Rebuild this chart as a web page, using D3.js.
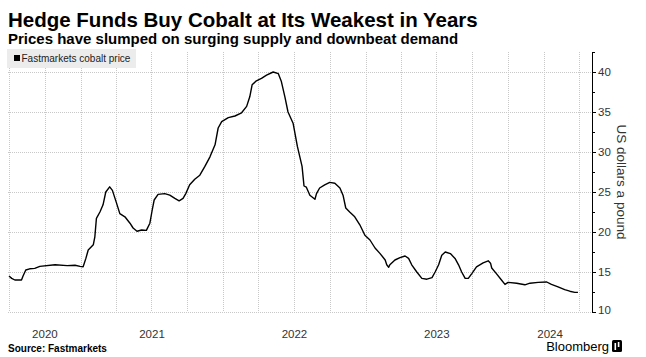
<!DOCTYPE html>
<html><head><meta charset="utf-8">
<script src="https://cdn.jsdelivr.net/npm/d3@7"></script>
<style>
html,body{margin:0;padding:0;background:#fff;}
svg{display:block;font-family:"Liberation Sans",Arial,sans-serif;}
</style></head>
<body><svg id="c" width="646" height="357"></svg>
<script>
// ---- data ----
const dates = ["2020-07-01","2020-07-08","2020-07-16","2020-08-02","2020-08-06","2020-08-13","2020-08-23","2020-09-05","2020-09-18","2020-10-27","2020-11-27","2020-12-17","2020-12-30",
"2021-01-07","2021-01-14","2021-01-20","2021-02-02","2021-02-06","2021-02-10","2021-02-19","2021-02-27","2021-03-06","2021-03-16","2021-03-23","2021-04-02","2021-04-11","2021-04-24","2021-05-07","2021-05-15","2021-05-25","2021-06-06","2021-06-18","2021-06-27","2021-07-03","2021-07-08","2021-07-18","2021-08-04","2021-08-17","2021-08-30","2021-09-10","2021-09-20","2021-09-27","2021-10-07","2021-10-20","2021-11-02","2021-11-15","2021-11-28","2021-12-11","2021-12-19","2021-12-28",
"2022-01-14","2022-01-31","2022-02-17","2022-03-02","2022-03-10","2022-03-16","2022-03-27","2022-04-09","2022-04-22","2022-05-09","2022-05-22","2022-05-30","2022-06-08","2022-06-16","2022-06-29","2022-07-10","2022-07-22","2022-07-27","2022-08-02","2022-08-11","2022-08-24","2022-08-28","2022-09-05","2022-09-18","2022-10-01","2022-10-14","2022-10-27","2022-11-04","2022-11-11","2022-11-21","2022-12-04","2022-12-17","2022-12-30",
"2023-01-12","2023-01-25","2023-02-07","2023-02-20","2023-02-24","2023-03-01","2023-03-04","2023-03-17","2023-03-30","2023-04-12","2023-04-21","2023-04-29","2023-05-12","2023-05-25","2023-06-07","2023-06-20","2023-06-28","2023-07-07","2023-07-15","2023-07-24","2023-08-06","2023-08-18","2023-08-27","2023-09-04","2023-09-13","2023-09-21","2023-09-30","2023-10-12","2023-10-29","2023-11-11","2023-11-17","2023-11-20","2023-12-02","2023-12-15","2023-12-24",
"2024-01-01","2024-01-23","2024-02-13","2024-02-26","2024-03-18","2024-04-09","2024-04-21","2024-05-08","2024-05-25","2024-06-07","2024-06-20","2024-06-28"];
const prices = [14.5,14.2,14.0,14.0,14.5,15.25,15.4,15.45,15.7,15.9,15.8,15.85,15.7,
15.65,16.7,17.75,18.4,19.4,21.7,22.5,23.4,25.0,25.65,25.2,23.7,22.3,21.9,21.1,20.5,20.1,20.25,20.2,21.1,22.75,24.0,24.7,24.8,24.6,24.2,23.9,24.2,24.8,25.9,26.6,27.1,28.2,29.4,30.9,33.0,33.8,
34.3,34.5,34.9,35.7,36.9,38.4,38.9,39.2,39.6,40.0,39.8,38.8,36.9,35.0,33.6,30.7,28.2,25.75,25.6,24.6,24.1,24.8,25.5,25.9,26.2,26.1,25.5,24.6,23.0,22.5,21.9,20.9,19.6,
19.0,18.0,17.3,16.5,15.9,15.6,15.9,16.5,16.8,17.0,16.7,15.9,15.0,14.2,14.1,14.3,15.0,15.9,17.1,17.5,17.3,16.7,15.9,15.0,14.2,14.2,14.8,15.65,16.15,16.4,16.1,15.5,14.8,14.0,13.45,
13.7,13.6,13.4,13.6,13.7,13.75,13.45,13.15,12.8,12.6,12.45,12.45];
const yTicks = [10,15,20,25,30,35,40];
const yMinorTicks = [12.5,17.5,22.5,27.5,32.5,37.5,42.5];
const yearLabels = [2020,2021,2022,2023,2024];
const seriesName = "Fastmarkets cobalt price";

(function(){
const parse = d3.timeParse("%Y-%m-%d");
const data = dates.map((d,i)=>({date:parse(d), value:prices[i]}));

const svg = d3.select("#c");
const pL = 9, pR = 592, pT = 52, pB = 312;
const d0 = new Date(2020,6,1), d1 = new Date(2024,7,3);
const x = d3.scaleTime().domain([d0,d1]).range([pL,pR]);
const y = d3.scaleLinear().domain([10,42.5]).range([pB,pT]);

// title
svg.append("text").attr("x",8).attr("y",27).attr("font-size","20.5px").attr("font-weight","bold").attr("fill","#000")
  .text("Hedge Funds Buy Cobalt at Its Weakest in Years");
svg.append("text").attr("x",8).attr("y",44).attr("font-size","15px").attr("font-weight","bold").attr("fill","#000")
  .text("Prices have slumped on surging supply and downbeat demand");

// grid
const g = svg.append("g");
g.selectAll("line.h").data(yTicks).join("line")
  .attr("x1",pL-1).attr("x2",pR).attr("y1",d=>y(d)+0.5).attr("y2",d=>y(d)+0.5)
  .attr("stroke","#c8c8c8").attr("stroke-width",1).attr("stroke-dasharray","1,1");
const quarters = d3.timeMonth.every(3).range(d0, d1);
g.selectAll("line.v").data(quarters).join("line")
  .attr("x1",d=>Math.round(x(d))+0.5).attr("x2",d=>Math.round(x(d))+0.5).attr("y1",pT).attr("y2",pB)
  .attr("stroke","#c8c8c8").attr("stroke-width",1).attr("stroke-dasharray","1,1");

// legend box
const lg = svg.append("g");
lg.append("rect").attr("x",7).attr("y",49).attr("width",129).attr("height",19).attr("fill","#ececec");
lg.append("rect").attr("x",14).attr("y",55).attr("width",6).attr("height",6).attr("fill","#000");
lg.append("text").attr("x",21.5).attr("y",62).attr("font-size","10px").attr("fill","#222").text(seriesName);

// line
svg.append("path").datum(data)
  .attr("d", d3.line().x(d=>x(d.date)).y(d=>y(d.value)).curve(d3.curveLinear))
  .attr("fill","none").attr("stroke","#000").attr("stroke-width",1.4).attr("stroke-linejoin","round");

// right axis
const ax = svg.append("g").attr("transform",`translate(${pR},0)`)
  .call(d3.axisRight(y).tickValues(yTicks).tickSize(4).tickPadding(2).tickFormat(d3.format("d")));
ax.select(".domain").attr("stroke","#000").attr("d",`M0.5,${pT}V${pB}`);
ax.selectAll(".tick line").attr("stroke","#000");
ax.selectAll(".tick text").attr("font-size","11.5px").attr("fill","#333").attr("font-family","Liberation Sans, Arial, sans-serif");
ax.selectAll(".tick").filter(d=>d===10).select("text").attr("dy","0.1em");
svg.append("g").selectAll("line").data(yMinorTicks).join("line")
  .attr("x1",pR).attr("x2",pR+3).attr("y1",d=>y(d)+0.5).attr("y2",d=>y(d)+0.5).attr("stroke","#000");

// axis title
svg.append("text").attr("transform",`translate(617,182) rotate(90)`).attr("text-anchor","middle")
  .attr("font-size","13.5px").attr("fill","#333").text("US dollars a pound");

// year labels centred in the visible part of each year
svg.append("g").selectAll("text").data(yearLabels).join("text")
  .attr("x",yr=>{const a=Math.max(+new Date(yr,0,1),+d0), b=Math.min(+new Date(yr+1,0,1),+d1); return (x(new Date(a))+x(new Date(b)))/2;})
  .attr("y",338).attr("text-anchor","middle").attr("font-size","11.5px").attr("fill","#333").text(d=>d);

// footer
svg.append("text").attr("x",8).attr("y",352).attr("font-size","10px").attr("font-weight","bold").attr("fill","#000").text("Source: Fastmarkets");
svg.append("text").attr("x",609).attr("y",351).attr("text-anchor","end").attr("font-size","13px").attr("fill","#000").text("Bloomberg");
const logo = svg.append("g").attr("transform","translate(612,340)");
logo.append("rect").attr("width",10).attr("height",12).attr("rx",1.5).attr("fill","#000");
logo.append("rect").attr("x",2.5).attr("y",3).attr("width",1.6).attr("height",7).attr("fill","#fff");
logo.append("rect").attr("x",5.8).attr("y",2).attr("width",1.6).attr("height",5).attr("fill","#fff");
})();
</script></body></html>
